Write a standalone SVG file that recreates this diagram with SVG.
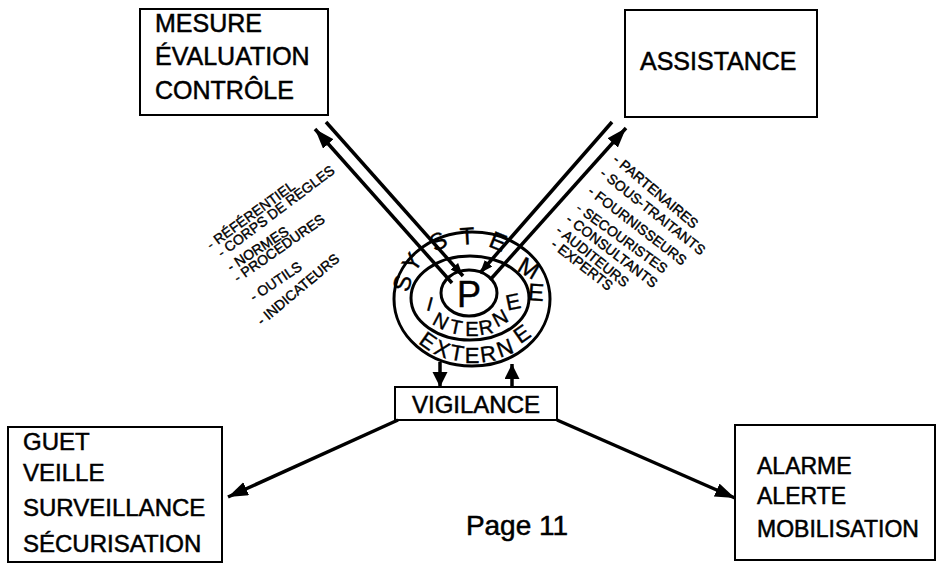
<svg xmlns="http://www.w3.org/2000/svg" width="942" height="565" viewBox="0 0 942 565">
<style>
.box{fill:#fff;stroke:#000;stroke-width:2}
.t{font-family:"Liberation Sans",Arial,sans-serif;fill:#000;stroke:#000;stroke-width:0.5}
.lbl{font-size:24px}
.sm{font-size:14px;stroke-width:0.4}
.ring{fill:none;stroke:#000;stroke-width:3}
.ln{stroke:#000;stroke-width:3.5;fill:none}
.lt{font-family:"Liberation Sans",Arial,sans-serif;fill:#000;stroke:#000;stroke-width:0.4;text-anchor:middle;dominant-baseline:central}
</style>
<defs>
<marker id="ah" markerUnits="userSpaceOnUse" markerWidth="22" markerHeight="16" refX="20" refY="7" orient="auto"><path d="M0,0 L20,7 L0,14 z" fill="#000"/></marker>
<marker id="ahs" markerUnits="userSpaceOnUse" markerWidth="16" markerHeight="12" refX="13" refY="5" orient="auto"><path d="M0,0 L13,5 L0,10 z" fill="#000"/></marker>
<marker id="ahm" markerUnits="userSpaceOnUse" markerWidth="18" markerHeight="18" refX="15" refY="7.5" orient="auto"><path d="M0,0 L15,7.5 L0,15 z" fill="#000"/></marker>
</defs>
<rect width="942" height="565" fill="#fff"/>

<g id="mesure">
<rect class="box" x="140" y="9" width="188" height="106"/>
<text class="t" font-size="25" x="155" y="32">MESURE</text>
<text class="t" font-size="25" x="155" y="65">ÉVALUATION</text>
<text class="t" font-size="25" x="155" y="99">CONTRÔLE</text>
</g>
<g id="assistance">
<rect class="box" x="625" y="10" width="192" height="107"/>
<text class="t" font-size="25" x="640" y="70">ASSISTANCE</text>
</g>
<g id="guet">
<rect class="box" x="8" y="427" width="214" height="135"/>
<text class="t lbl" x="23" y="450">GUET</text>
<text class="t lbl" x="23" y="481">VEILLE</text>
<text class="t lbl" x="23" y="516">SURVEILLANCE</text>
<text class="t lbl" x="23" y="552">SÉCURISATION</text>
</g>
<g id="alarme">
<rect class="box" x="735" y="425" width="200" height="135"/>
<text class="t" font-size="23" x="757" y="474">ALARME</text>
<text class="t" font-size="23" x="757" y="504">ALERTE</text>
<text class="t" font-size="23" x="757" y="537">MOBILISATION</text>
</g>
<g id="vigilance">
<rect class="box" x="395" y="387" width="162" height="33"/>
<text class="t lbl" x="476" y="413" text-anchor="middle">VIGILANCE</text>
</g>

<g id="systeme">
<ellipse class="ring" cx="472" cy="299" rx="78" ry="67"/>
<ellipse class="ring" cx="470" cy="298" rx="59" ry="42"/>
<ellipse class="ring" cx="469" cy="293" rx="28" ry="23"/>
<text class="t" font-size="36" stroke-width="1" x="469" y="294" text-anchor="middle" dominant-baseline="central">P</text>
<g class="lt" font-size="24">
<text transform="translate(402,283) rotate(-75)">S</text>
<text transform="translate(412,262) rotate(-55)">Y</text>
<text transform="translate(438,241) rotate(-28)">S</text>
<text transform="translate(467,236) rotate(-3)">T</text>
<text transform="translate(498,241) rotate(22)">E</text>
<text transform="translate(529,268) rotate(30)">M</text>
<text transform="translate(536,292) rotate(4)">E</text>
</g>
<g class="lt" font-size="20">
<text transform="translate(430,304) rotate(15)">I</text>
<text transform="translate(441,321) rotate(28)">N</text>
<text transform="translate(456,327) rotate(12)">T</text>
<text transform="translate(472,329) rotate(0)">E</text>
<text transform="translate(486,327) rotate(-10)">R</text>
<text transform="translate(500,318) rotate(-28)">N</text>
<text transform="translate(513,302) rotate(-12)" font-size="22">E</text>
</g>
<g class="lt" font-size="22">
<text transform="translate(428,341) rotate(35)">E</text>
<text transform="translate(442,349) rotate(22)">X</text>
<text transform="translate(457,353) rotate(10)">T</text>
<text transform="translate(472,355) rotate(0)">E</text>
<text transform="translate(488,354) rotate(-8)">R</text>
<text transform="translate(505,348) rotate(-20)">N</text>
<text transform="translate(522,334) rotate(-35)">E</text>
</g>
</g>

<g id="labels-left" class="t sm">
<text transform="translate(211,250) rotate(-36)">- RÉFÉRENTIEL</text>
<text transform="translate(222,258) rotate(-37)">- CORPS DE REGLES</text>
<text transform="translate(231,272) rotate(-33)">- NORMES</text>
<text transform="translate(238,283) rotate(-35)">- PROCEDURES</text>
<text transform="translate(254,302) rotate(-34)">- OUTILS</text>
<text transform="translate(262,326) rotate(-40)">- INDICATEURS</text>
</g>
<g id="labels-right" class="t sm">
<text transform="translate(612,161) rotate(40)">- PARTENAIRES</text>
<text transform="translate(599,175) rotate(38.5)">- SOUS-TRAITANTS</text>
<text transform="translate(587,193) rotate(37.5)">- FOURNISSEURS</text>
<text transform="translate(575,210) rotate(36)">- SECOURISTES</text>
<text transform="translate(565,221) rotate(37.5)">- CONSULTANTS</text>
<text transform="translate(555,232) rotate(39)">- AUDITEURS</text>
<text transform="translate(550,246) rotate(38)">- EXPERTS</text>
</g>

<g id="connectors">
<line class="ln" x1="452" y1="283" x2="315" y2="129" marker-end="url(#ah)"/>
<line class="ln" x1="326" y1="122" x2="463" y2="276" marker-end="url(#ahs)"/>
<line class="ln" x1="490" y1="280" x2="626" y2="128" marker-end="url(#ah)"/>
<line class="ln" x1="612" y1="122" x2="480" y2="273" marker-end="url(#ahs)"/>
<line class="ln" x1="440" y1="362" x2="440" y2="387" marker-end="url(#ahm)"/>
<line class="ln" x1="512" y1="387" x2="512" y2="364" marker-end="url(#ahm)"/>
<line class="ln" x1="398" y1="420" x2="228" y2="497" marker-end="url(#ah)"/>
<line class="ln" x1="557" y1="420" x2="735" y2="498" marker-end="url(#ah)"/>
</g>

<text id="page" class="t" font-size="28" x="517" y="535" text-anchor="middle">Page 11</text>
</svg>
